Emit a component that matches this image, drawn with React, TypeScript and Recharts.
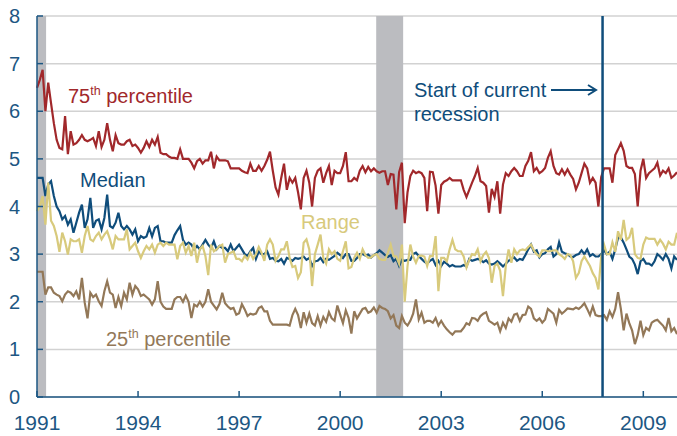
import React from 'react';
import {
  LineChart,
  Line,
  XAxis,
  YAxis,
  CartesianGrid,
  ReferenceArea,
  ReferenceLine
} from 'recharts';

// monthly readings, Jan 1991 .. Jan 2010
const p75 = [
  6.49, 6.66, 6.87, 6.0, 6.6, 6.17, 5.75, 5.4, 5.23, 5.2, 5.9, 5.1, 5.58, 5.3, 5.33, 5.4, 5.5, 5.4, 5.37, 5.4,
  5.44, 5.27, 5.58, 5.25, 5.4, 5.75, 5.4, 5.16, 5.5, 5.33, 5.3, 5.3, 5.37, 5.4, 5.27, 5.3, 5.23, 5.13, 5.23,
  5.37, 5.25, 5.4, 5.3, 5.46, 5.13, 5.1, 5.1, 5.05, 5.02, 5.02, 5.0, 5.2, 5.0, 5.0, 5.0, 4.92, 4.8, 4.95, 5.0,
  4.9, 4.97, 4.97, 5.15, 4.8, 5.05, 4.97, 4.97, 4.97, 4.95, 4.8, 4.8, 4.8, 4.8, 4.75, 4.72, 4.7, 4.9, 4.75,
  4.75, 4.85, 4.75, 4.85, 4.98, 5.15, 4.75, 4.4, 4.25, 4.6, 4.9, 4.35, 4.6, 4.5, 4.6, 4.3, 3.94, 4.6, 4.75, 4.5,
  4.0, 4.6, 4.75, 4.8, 4.5, 4.7, 4.85, 4.45, 4.75, 4.7, 4.7, 4.85, 5.14, 4.53, 4.53, 4.6, 4.55, 4.75, 4.85,
  4.72, 4.83, 4.74, 4.8, 4.74, 4.71, 4.74, 4.74, 4.45, 4.68, 4.67, 3.94, 4.72, 4.92, 3.65, 4.3, 4.64, 4.75, 4.7,
  4.73, 4.7, 4.6, 3.9, 4.73, 4.72, 4.44, 3.85, 4.45, 4.52, 4.55, 4.6, 4.55, 4.55, 4.55, 4.55, 4.35, 4.2, 4.35, 4.5,
  4.64, 4.81, 4.53, 4.5, 4.43, 3.87, 4.37, 4.2, 4.53, 3.85, 4.46, 4.7, 4.64, 4.74, 4.81, 4.74, 4.64, 4.64, 4.85,
  4.96, 5.14, 4.74, 4.81, 4.7, 4.74, 4.81, 5.02, 5.16, 4.85, 4.7, 4.67, 4.78, 4.67, 4.78, 4.67, 4.58, 4.36, 4.5,
  4.7, 4.9,
  4.8, 4.5, 4.6, 4.5, 4.0, 4.62, 4.8, 4.8, 4.8, 4.5, 5.08, 5.2, 5.33, 5.17, 4.85, 4.81, 4.81, 4.68, 4.0, 4.75,
  5.0, 4.6, 4.7, 4.75, 4.8, 4.92, 4.65, 4.75, 4.7, 4.8, 4.6, 4.65, 4.72
];

const median = [
  4.6, 4.6, 4.6, 4.22, 4.46, 4.53, 4.22, 4.0, 3.9, 3.73, 3.8, 3.62, 3.73, 3.45, 3.66, 3.87, 4.04, 3.55, 3.73, 4.18,
  3.55, 3.7, 3.73, 3.52, 3.76, 4.25, 3.59, 3.55, 3.66, 3.87, 3.59, 3.52, 3.59, 3.52, 3.41, 3.52, 3.27, 3.38, 3.34,
  3.37, 3.55, 3.37, 3.55, 3.59, 3.27, 3.27, 3.24, 3.24, 3.24, 3.4, 3.5, 3.59, 3.3, 3.2, 3.24, 3.2, 3.1, 3.17, 3.1,
  3.2, 3.3, 3.2, 3.13, 3.27, 3.1, 3.17, 3.13, 3.13, 3.06, 3.2, 3.06, 3.13, 3.2, 3.1, 3.0, 2.96, 3.06, 3.13,
  2.9, 3.06, 3.0, 3.0, 3.06, 2.9, 2.92, 2.86, 2.85, 2.9, 2.8, 2.92, 2.9, 2.86, 2.92, 2.9, 2.92, 2.95, 2.88, 2.92,
  2.75, 2.85, 2.86, 2.92, 2.83, 2.9, 2.88, 2.92, 2.96, 3.03, 2.98, 2.92, 3.0, 3.0, 2.86, 2.86, 2.92, 3.0, 3.0,
  2.97, 2.99, 2.93, 2.98, 3.02, 3.08, 3.03, 2.98, 2.94, 2.98, 2.85, 2.9, 2.75, 2.88, 2.86, 2.88, 2.88, 3.0, 3.03,
  2.96, 2.9, 2.84, 2.8, 2.86, 2.9, 2.77, 2.86, 2.75, 2.84, 2.8, 2.74, 2.77, 2.74, 2.74, 2.74, 2.77, 2.74, 2.9, 2.86,
  2.88, 2.9, 2.88, 2.83, 2.87, 2.8, 2.78, 2.8, 2.85, 2.8, 2.74, 2.8, 2.86, 2.9, 2.93, 2.86, 2.9, 2.88, 2.98,
  3.1, 3.2, 3.05, 3.08, 2.93, 3.0, 3.02, 3.1, 3.15, 2.95, 3.0, 3.25, 3.05, 3.02, 3.0, 2.95, 2.94, 2.98, 3.0,
  3.08, 3.0,
  3.1, 2.96, 3.0, 2.95, 2.95, 3.0, 3.08, 3.0, 3.05, 2.9, 3.1, 3.35, 3.35, 3.24, 3.1, 2.95, 2.9, 2.78, 2.58, 2.85,
  2.9, 2.8, 2.8, 2.76, 2.85, 3.0, 2.95, 2.88, 3.0, 2.9, 2.7, 2.95, 2.88
];

const range = [
  3.9, 4.0, 4.22, 3.62, 4.5, 3.7, 3.59, 3.38, 3.05, 3.45, 3.27, 2.99, 3.31, 3.27, 3.27, 3.31, 3.03, 3.38, 3.59, 3.31,
  3.27, 3.38, 3.45, 3.31, 3.41, 3.48, 3.31, 3.1, 3.38, 3.31, 3.31, 3.31, 3.52, 3.1, 3.17, 3.24, 3.06, 2.92, 3.06,
  3.17, 3.1, 3.2, 3.03, 3.2, 3.24, 3.17, 3.24, 3.2, 3.2, 3.2, 2.89, 3.17, 3.24, 3.03, 3.17, 2.96, 3.24, 2.82, 3.1,
  3.17, 2.96, 2.56, 3.2, 3.06, 3.1, 3.17, 3.2, 2.82, 3.0, 3.03, 3.06, 2.9, 2.9, 2.85, 2.96, 2.89, 3.03, 2.9,
  3.0, 3.15, 3.03, 2.86, 3.2, 3.31, 3.2, 2.86, 2.96, 3.1, 3.1, 3.27, 2.92, 2.73, 2.75, 2.5, 2.62, 3.24, 3.31, 3.1,
  2.33, 3.0, 3.2, 3.41, 2.92, 2.8, 3.1, 3.0, 3.06, 2.9, 2.86, 3.06, 3.27, 2.7, 2.73, 2.92, 3.03, 2.9, 3.1,
  2.98, 2.92, 2.93, 2.98, 3.0, 2.9, 2.88, 2.88, 3.03, 3.2, 2.96, 2.95, 2.8, 3.2, 2.0, 2.75, 3.2, 2.95, 2.82,
  2.96, 2.97, 2.95, 2.75, 2.96, 2.96, 3.38, 2.22, 2.92, 2.92, 2.85, 3.1, 3.3, 3.1, 3.06, 3.06, 2.95, 2.72, 2.88, 3.0,
  2.98, 3.1, 2.85, 2.98, 3.05, 2.92, 2.4, 2.75, 2.8, 2.65, 2.12, 2.75, 3.1, 2.82, 3.1, 3.0, 3.08, 3.1, 3.08,
  3.15, 3.2, 3.08, 3.0, 2.95, 3.08, 3.08, 3.06, 3.06, 3.08, 3.08, 3.0, 2.96, 2.9, 3.0, 2.98, 2.85, 2.5, 2.6,
  2.85, 2.95,
  2.85, 2.75, 2.6, 2.5, 2.26, 2.95, 3.2, 3.0, 3.0, 3.25, 3.05, 3.48, 3.3, 3.72, 3.3, 3.35, 3.55, 3.0, 2.92, 2.9,
  3.2, 3.35, 3.32, 3.32, 3.32, 3.2, 3.3, 3.22, 3.1, 3.26, 3.2, 3.2, 3.45
];

const p25 = [
  2.63, 2.63, 2.63, 2.15, 2.3, 2.3, 2.19, 2.15, 2.12, 2.01, 2.15, 2.22, 2.19, 2.12, 2.22, 2.05, 2.5, 1.98, 1.65, 2.19,
  2.1, 2.15, 2.01, 1.91, 2.22, 2.43, 2.19, 2.15, 1.87, 2.1, 1.91, 2.19, 2.05, 2.4, 2.15, 2.33, 2.26, 2.12, 2.15,
  2.1, 2.05, 1.94, 2.05, 2.43, 2.0, 1.9, 1.85, 1.85, 1.85, 2.05, 2.1, 2.1, 2.0, 2.13, 2.0, 1.66, 1.94, 1.9, 2.0,
  1.9, 2.0, 2.26, 2.0, 1.92, 1.84, 1.95, 2.19, 1.97, 1.9, 1.85, 1.87, 1.73, 1.76, 1.95, 1.84, 1.7, 1.75, 1.73,
  1.75, 1.87, 1.9, 1.8, 1.8, 1.6, 1.52, 1.52, 1.52, 1.52, 1.52, 1.52, 1.5, 1.72, 1.85, 1.72, 1.45, 1.78, 1.56, 1.75,
  1.55, 1.5, 1.7, 1.5, 1.68, 1.58, 1.78, 1.65, 1.6, 1.92, 1.73, 1.55, 1.82, 1.66, 1.33, 1.8, 1.65, 1.75, 1.85,
  1.87, 1.77, 1.8, 1.88, 1.77, 1.91, 1.87, 1.85, 1.8, 1.65, 1.72, 1.5, 1.45, 1.7, 1.56, 1.5, 1.6, 1.75, 2.05,
  1.63, 1.77, 1.56, 1.6, 1.6, 1.56, 1.66, 1.5, 1.6, 1.5, 1.42, 1.36, 1.31, 1.38, 1.38, 1.38, 1.45, 1.55, 1.52, 1.66,
  1.65, 1.6, 1.7, 1.75, 1.78, 1.6, 1.56, 1.52, 1.56, 1.38, 1.56, 1.45, 1.65, 1.58, 1.73, 1.75, 1.6, 1.72, 1.73,
  1.9, 1.85, 1.65, 1.6, 1.65, 1.56, 1.63, 1.85, 1.8, 1.75, 1.56, 1.83, 1.75, 1.8, 1.86, 1.85, 1.84, 1.88, 1.85,
  1.9, 1.97,
  1.85, 1.72, 1.9, 1.72, 1.7, 1.7, 1.72, 1.62, 1.8, 1.68, 1.85, 2.2, 1.85, 1.4, 1.75, 1.55, 1.4, 1.11, 1.3, 1.6,
  1.3, 1.45, 1.4, 1.56, 1.6, 1.62, 1.56, 1.5, 1.4, 1.66, 1.38, 1.45, 1.32
];

const START_YEAR = 1991;
const yearTicks = [1991, 1994, 1997, 2000, 2003, 2006, 2009];
const valueTicks = [0, 1, 2, 3, 4, 5, 6, 7, 8];
const recessions = [
  { from: 1991.0, to: 1991.27 },
  { from: 2001.07, to: 2001.87 }
];
const recessionStart = 2007.79;

const RED = '#a1282b';
const BLUE = '#0f4d7b';
const KHAKI = '#d8ca7c';
const BROWN = '#937858';
const AXIS = '#1d5783';
const FONT = '"Liberation Sans", Arial, sans-serif';

const data = p75.map((v, i) => ({
  t: START_YEAR + i / 12,
  p75: v,
  median: median[i],
  range: range[i],
  p25: p25[i]
}));

export default function App() {
  return (
    <div style={{ position: 'absolute', left: 0, top: 0, width: 677, height: 436, background: '#fff', fontFamily: FONT }}>
      <LineChart width={677} height={436} data={data} margin={{ top: 16, right: 0, left: 0, bottom: 0 }}>
        <CartesianGrid vertical={false} stroke="#d2d2d2" strokeWidth={1.5} />
        {recessions.map(r => (
          <ReferenceArea key={r.from} x1={r.from} x2={r.to} y1={0} y2={8} fill="#bbbcc0" fillOpacity={1} stroke="none" />
        ))}
        <XAxis
          dataKey="t"
          type="number"
          domain={[1991, 2010]}
          ticks={yearTicks}
          interval={0}
          height={39}
          tickSize={-6}
          tickMargin={24}
          stroke={AXIS}
          strokeWidth={1.5}
          tick={{ fill: AXIS, fontSize: 21, fontFamily: FONT }}
        />
        <YAxis
          type="number"
          domain={[0, 8]}
          ticks={valueTicks}
          interval={0}
          width={37}
          tickSize={-6}
          tickMargin={23}
          stroke={AXIS}
          strokeWidth={1.5}
          tick={{ fill: AXIS, fontSize: 20, fontFamily: FONT }}
        />
        <Line type="linear" dataKey="p25" stroke={BROWN} strokeWidth={2.2} dot={false} isAnimationActive={false} />
        <Line type="linear" dataKey="median" stroke={BLUE} strokeWidth={2.2} dot={false} isAnimationActive={false} />
        <Line type="linear" dataKey="range" stroke={KHAKI} strokeWidth={2.2} dot={false} isAnimationActive={false} />
        <Line type="linear" dataKey="p75" stroke={RED} strokeWidth={2.2} dot={false} isAnimationActive={false} />
        <ReferenceLine x={recessionStart} stroke={BLUE} strokeWidth={2.5} />
      </LineChart>
      <svg width={677} height={436} style={{ position: 'absolute', left: 0, top: 0, pointerEvents: 'none' }}>
        <g fontFamily={FONT} fontSize={20}>
          <text x={68} y={103} fill={RED}>
            75<tspan fontSize={12.5} dy={-8}>th</tspan>
            <tspan dy={8}> percentile</tspan>
          </text>
          <text x={80} y={187} fill={BLUE}>Median</text>
          <text x={301} y={229} fill={KHAKI}>Range</text>
          <text x={106} y={346} fill={BROWN}>
            25<tspan fontSize={12.5} dy={-8}>th</tspan>
            <tspan dy={8}> percentile</tspan>
          </text>
          <text x={414} y={97} fill={BLUE}>Start of current</text>
          <text x={414} y={121} fill={BLUE}>recession</text>
        </g>
        <line x1={551} y1={90} x2={595} y2={90} stroke={BLUE} strokeWidth={2} />
        <polyline points="588,85 596,90 588,95" fill="none" stroke={BLUE} strokeWidth={2} />
      </svg>
    </div>
  );
}
